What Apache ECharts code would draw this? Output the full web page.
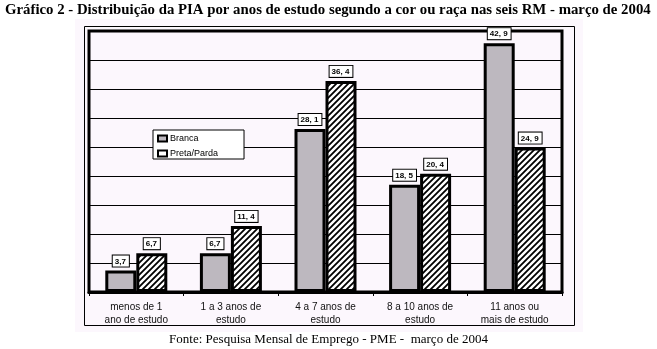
<!DOCTYPE html>
<html>
<head>
<meta charset="utf-8">
<script src="https://cdn.jsdelivr.net/npm/echarts@6/dist/echarts.min.js"></script>
<style>
html,body{margin:0;padding:0;background:#fff;}
#chart{width:657px;height:349px;}
</style>
</head>
<body>
<div id="chart"></div>
<script>
var categories = ['menos de 1\nano de estudo', '1 a 3 anos de\nestudo', '4 a 7 anos de\nestudo', '8 a 10 anos de\nestudo', '11 anos ou\nmais de estudo'];
var branca = [3.7, 6.7, 28.1, 18.5, 42.9];
var pretaParda = [6.7, 11.4, 36.4, 20.4, 24.9];
var seriesNames = ['Branca', 'Preta/Parda'];
var titleText = 'Gráfico 2 - Distribuição da PIA por anos de estudo segundo a cor ou raça nas seis RM - março de 2004';
var sourceText = 'Fonte: Pesquisa Mensal de Emprego - PME -  março de 2004';

function hatch() {
  var c = document.createElement('canvas');
  c.width = 6; c.height = 6;
  var g = c.getContext('2d');
  g.fillStyle = '#ffffff';
  g.fillRect(0, 0, 6, 6);
  g.strokeStyle = '#000000';
  g.lineWidth = 1.8;
  g.beginPath();
  g.moveTo(-1, 7); g.lineTo(7, -1);
  g.moveTo(-4, 4); g.lineTo(4, -4);
  g.moveTo(2, 10); g.lineTo(10, 2);
  g.stroke();
  return c;
}

function fmt(p) {
  var v = p.value;
  var s = v.toFixed(1).split('.');
  return s[0] + (s[0].length > 1 ? ', ' : ',') + s[1];
}

var labelStyle = {
  show: true,
  position: 'top',
  distance: 4,
  formatter: fmt,
  fontFamily: 'Liberation Sans',
  fontWeight: 'bold',
  fontSize: 8,
  color: '#000',
  backgroundColor: '#ffffff',
  borderColor: '#000',
  borderWidth: 1,
  padding: [2, 3, 1, 2]
};

var chart = echarts.init(document.getElementById('chart'));
chart.setOption({
  animation: false,
  backgroundColor: '#ffffff',
  graphic: [
    { type: 'rect', z: -10, shape: { x: 75, y: 19, width: 508, height: 313 }, style: { fill: '#fcf7fd', stroke: null } },
    { type: 'rect', z: -9, shape: { x: 84.5, y: 26.5, width: 490, height: 299 }, style: { fill: null, stroke: '#000', lineWidth: 1 } },
    { type: 'text', left: 5, top: 3, style: { text: titleText, fontFamily: 'Liberation Serif', fontWeight: 'bold', fontSize: 14.8, fill: '#000' } },
    { type: 'text', left: 'center', top: 333, style: { text: sourceText, fontFamily: 'Liberation Serif', fontSize: 13, fill: '#000' } }
  ],
  grid: {
    left: 89, right: 95, top: 31, bottom: 57,
    show: true, borderColor: '#000', borderWidth: 3, backgroundColor: 'transparent'
  },
  legend: {
    left: 153, top: 130,
    orient: 'vertical',
    itemWidth: 9, itemHeight: 6, itemGap: 6,
    backgroundColor: '#ffffff',
    borderColor: '#000', borderWidth: 1,
    padding: [4, 26, 1, 4],
    textStyle: { fontFamily: 'Liberation Sans', fontSize: 9, color: '#000', padding: [0, 0, 0, -2] },
    data: [
      { name: seriesNames[0], icon: 'rect', itemStyle: { color: '#bdb8bf', borderColor: '#000', borderWidth: 2 } },
      { name: seriesNames[1], icon: 'rect', itemStyle: { color: '#ffffff', borderColor: '#000', borderWidth: 2 } }
    ]
  },
  xAxis: {
    type: 'category',
    data: categories,
    axisLine: { show: true, lineStyle: { color: '#000', width: 3 } },
    axisTick: { show: true, length: 4, lineStyle: { color: '#000', width: 1 } },
    axisLabel: { fontFamily: 'Liberation Sans', fontSize: 10, color: '#111', lineHeight: 13, margin: 9 }
  },
  yAxis: {
    type: 'value',
    min: 0, max: 45, interval: 5,
    axisLine: { show: false },
    axisTick: { show: false },
    axisLabel: { show: false },
    splitLine: { show: true, lineStyle: { color: '#000', width: 1 } }
  },
  series: [
    {
      name: seriesNames[0], type: 'bar', data: branca,
      barWidth: 31, barGap: '0%',
      itemStyle: { color: '#bdb8bf', borderColor: '#000', borderWidth: 3 },
      label: labelStyle
    },
    {
      name: seriesNames[1], type: 'bar', data: pretaParda,
      barWidth: 31, barGap: '0%',
      itemStyle: { color: { image: hatch(), repeat: 'repeat' }, borderColor: '#000', borderWidth: 3 },
      label: labelStyle
    }
  ]
});
</script>
</body>
</html>
